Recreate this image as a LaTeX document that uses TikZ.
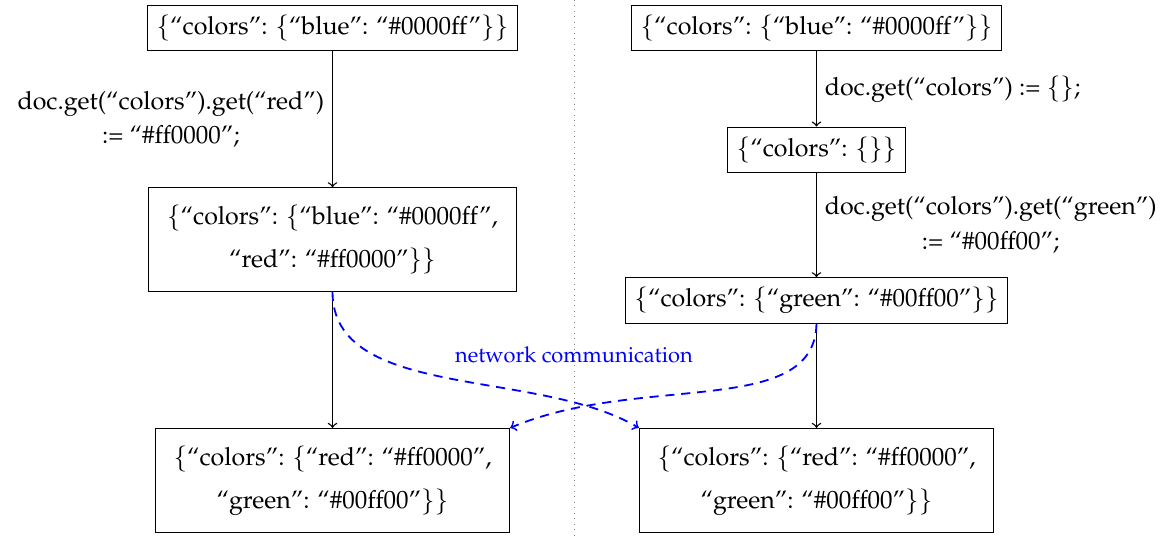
\documentclass[tikz,border=0pt]{standalone}
\usepackage[OT1]{fontenc}
\usepackage{mathpazo}
\newcommand{\jlb}{\ensuremath{\{}}
\newcommand{\jrb}{\ensuremath{\}}}
\begin{document}
\begin{tikzpicture}[x=0.44pt,y=-0.44pt,
  box/.style={draw, font=\fontsize{11}{19}\selectfont, inner xsep=4pt, inner ysep=4.2pt},
  bigbox/.style={box, align=center, inner xsep=8pt, inner ysep=7.6pt},
  lbl/.style={font=\fontsize{11}{15}\selectfont, align=center},
  flow/.style={->, semithick},
  net/.style={->, blue, thick, dash pattern=on 4pt off 3pt},
  sep/.style={gray, dotted}]
\useasboundingbox (0,0) rectangle (1172,538);
\coordinate (septop) at (574,0);
\coordinate (sepbot) at (574,538);
\draw[sep] (septop) -- (sepbot);

\node[box] (a1) at (332.5,28) {\jlb``colors'': \jlb``blue'': ``\#0000ff''\jrb\jrb};
\node[bigbox] (a2) at (332.5,239.5) {\jlb``colors'': \jlb``blue'': ``\#0000ff'',\\ ``red'': ``\#ff0000''\jrb\jrb};
\node[bigbox] (a3) at (332.5,480.5) {\jlb``colors'': \jlb``red'': ``\#ff0000'',\\ ``green'': ``\#00ff00''\jrb\jrb};

\node[box] (b1) at (816.5,28) {\jlb``colors'': \jlb``blue'': ``\#0000ff''\jrb\jrb};
\node[box] (b2) at (816.5,149.5) {\jlb``colors'': \jlb\jrb\jrb};
\node[box] (b3) at (816.5,300.5) {\jlb``colors'': \jlb``green'': ``\#00ff00''\jrb\jrb};
\node[bigbox] (b4) at (816.5,480.5) {\jlb``colors'': \jlb``red'': ``\#ff0000'',\\ ``green'': ``\#00ff00''\jrb\jrb};

\draw[flow] (a1) -- node[lbl, left] {doc.get(``colors'').get(``red'')\\:= ``\#ff0000'';} (a2);
\draw[flow] (a2) -- (a3);
\draw[flow] (b1) -- node[lbl, right] {doc.get(``colors'') := \jlb\jrb;} (b2);
\draw[flow] (b2) -- node[lbl, right] {doc.get(``colors'').get(``green'')\\:= ``\#00ff00'';} (b3);
\draw[flow] (b3) -- (b4);

\draw[net] (a2.south) .. controls +(0,109) and +(-101,-60) .. (b4.north west);
\draw[net] (b3.south) .. controls +(-2,95) and +(130,-55) .. (a3.north east);
\node[font=\fontsize{9.6}{12}\selectfont, text=blue] (netlbl) at (574,355) {network communication};
\end{tikzpicture}
\end{document}
